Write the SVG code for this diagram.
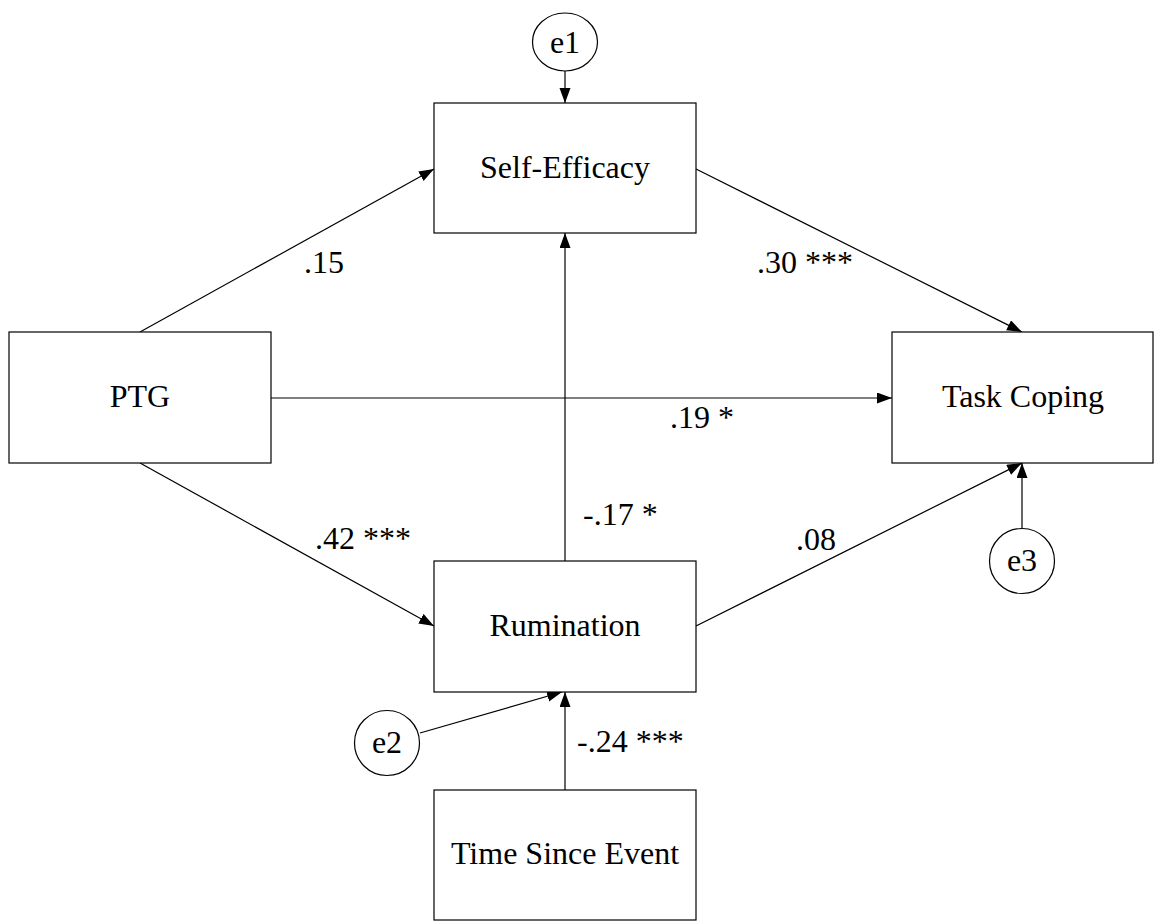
<svg xmlns="http://www.w3.org/2000/svg" width="1155" height="921" viewBox="0 0 1155 921">
<style>
.box{fill:#fff;stroke:#000;stroke-width:1.2}
.lbl{font-family:"Liberation Serif","Times New Roman",serif;font-size:32px;fill:#000}
.c{text-anchor:middle}
.edge{stroke:#000;stroke-width:1.2;fill:none;marker-end:url(#ah)}
</style>
<defs>
<marker id="ah" markerUnits="userSpaceOnUse" markerWidth="16" markerHeight="12" refX="15" refY="5.5" orient="auto">
<path d="M0,0 L15,5.5 L0,11 z" fill="#000"/>
</marker>
</defs>
<rect width="1155" height="921" fill="#fff"/>
<g id="connectors">
<line class="edge" x1="140" y1="332" x2="434" y2="169"/>
<line class="edge" x1="696" y1="169" x2="1022" y2="332"/>
<line class="edge" x1="271" y1="398" x2="892" y2="398"/>
<line class="edge" x1="140" y1="463" x2="434" y2="626"/>
<line class="edge" x1="696" y1="626" x2="1022" y2="463"/>
<line class="edge" x1="565" y1="561" x2="565" y2="233"/>
<line class="edge" x1="565" y1="71" x2="565" y2="103"/>
<line class="edge" x1="1022" y1="528" x2="1022" y2="463"/>
<line class="edge" x1="420" y1="733" x2="562" y2="692"/>
<line class="edge" x1="565" y1="790" x2="565" y2="692"/>
<text class="lbl" x="304" y="273">.15</text>
<text class="lbl" x="757" y="273">.30 ***</text>
<text class="lbl" x="670" y="428">.19 *</text>
<text class="lbl" x="315" y="549">.42 ***</text>
<text class="lbl" x="583" y="525">-.17 *</text>
<text class="lbl" x="796" y="550">.08</text>
<text class="lbl" x="577" y="752">-.24 ***</text>
</g>
<g id="self-efficacy">
<rect class="box" x="434" y="103" width="262" height="130"/>
<text class="lbl c" x="565" y="178">Self-Efficacy</text>
</g>
<g id="ptg">
<rect class="box" x="9" y="332" width="262" height="131"/>
<text class="lbl c" x="140" y="407">PTG</text>
</g>
<g id="task-coping">
<rect class="box" x="892" y="332" width="261" height="131"/>
<text class="lbl c" x="1023" y="407">Task Coping</text>
</g>
<g id="rumination">
<rect class="box" x="434" y="561" width="262" height="131"/>
<text class="lbl c" x="565" y="636">Rumination</text>
</g>
<g id="time-since-event">
<rect class="box" x="434" y="790" width="262" height="130"/>
<text class="lbl c" x="565" y="864">Time Since Event</text>
</g>
<g id="e1">
<ellipse class="box" cx="565" cy="42" rx="32.5" ry="29"/>
<text class="lbl c" x="565" y="53">e1</text>
</g>
<g id="e2">
<circle class="box" cx="387" cy="743" r="32.5"/>
<text class="lbl c" x="387" y="753">e2</text>
</g>
<g id="e3">
<circle class="box" cx="1022" cy="561" r="32.5"/>
<text class="lbl c" x="1022" y="571">e3</text>
</g>
</svg>
